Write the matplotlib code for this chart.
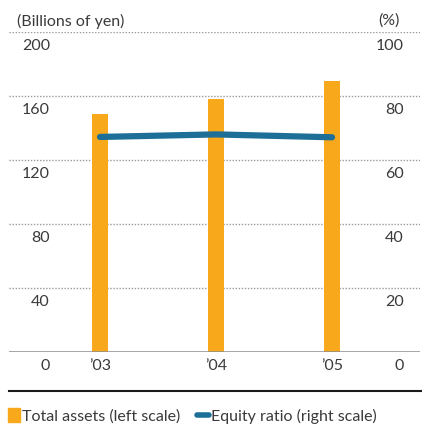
import matplotlib
matplotlib.use("Agg")
import matplotlib.pyplot as plt
import matplotlib.transforms as mtransforms
from matplotlib.lines import Line2D
from matplotlib.patches import Patch

years = ["\u201903", "\u201904", "\u201905"]
total_assets = [148.8, 158.1, 169.4]      # billions of yen
equity_ratio = [67.2, 68.0, 67.1]         # %
left_ticks = [0, 40, 80, 120, 160, 200]
right_ticks = [0, 20, 40, 60, 80, 100]

ORANGE = "#F7A81B"
BLUE = "#1D6F98"
TEXT = "#3A3A3A"
GRID = "#9A9A9A"
FS = 11.5

plt.rcParams["font.family"] = ["Lato", "DejaVu Sans"]

fig = plt.figure(figsize=(4.22, 4.25), dpi=100)
W, H = 422, 425
ax = fig.add_axes([9 / W, 1 - 352 / H, (420 - 9) / W, (352 - 32) / H])
ax2 = ax.twinx()

x = list(range(len(years)))
ax.bar(x, total_assets, width=16 / 116, color=ORANGE, zorder=2)
ax2.plot(x, equity_ratio, color=BLUE, lw=4.5, solid_capstyle="round", zorder=3)

ax.set_xlim((9 - 100) / 116, (420 - 100) / 116)
ax.set_ylim(0, 200)
ax2.set_ylim(0, 100)

for a in (ax, ax2):
    a.set_xticks([])
    a.set_yticks([])
    for s in a.spines.values():
        s.set_visible(False)
ax2.set_zorder(ax.get_zorder() + 1)

# dotted gridlines, solid baseline
for v in left_ticks[1:]:
    ax.axhline(v, color=GRID, lw=1.0, ls=(0, (1, 1.2)), zorder=1)
ax.axhline(0, color="#8C8C8C", lw=1.8, zorder=3)

# tick labels sit just under each gridline
below = mtransforms.offset_copy(ax.transData, fig=fig, x=0, y=-14, units="dots")
lt = mtransforms.blended_transform_factory(fig.transFigure, below)
for v in left_ticks:
    ax.text(50 / W, v, str(v), transform=lt, ha="right", va="center",
            fontsize=FS, color=TEXT)
below2 = mtransforms.offset_copy(ax2.transData, fig=fig, x=0, y=-14, units="dots")
rt = mtransforms.blended_transform_factory(fig.transFigure, below2)
for v in right_ticks:
    ax2.text(404 / W, v, str(v), transform=rt, ha="right", va="center",
             fontsize=FS, color=TEXT)

yl = mtransforms.blended_transform_factory(ax.transData, below)
for xi, lab in zip(x, years):
    ax.text(xi, 0, lab, transform=yl, ha="center", va="center",
            fontsize=FS, color=TEXT)

fig.text(17 / W, 1 - 21 / H, "(Billions of yen)", ha="left", va="center",
         fontsize=FS, color=TEXT)
fig.text(400 / W, 1 - 21 / H, "(%)", ha="right", va="center",
         fontsize=FS, color=TEXT)

fig.add_artist(Line2D([9 / W, 1.0], [1 - 391 / H] * 2, color="#1A1A1A", lw=1.5,
                      transform=fig.transFigure))

handles = [Patch(color=ORANGE),
           Line2D([], [], color=BLUE, lw=4, solid_capstyle="round")]
fig.legend(handles, ["Total assets (left scale)", "Equity ratio (right scale)"],
           loc="center left", bbox_to_anchor=(8 / W, 1 - 416 / H), ncol=2,
           frameon=False, fontsize=FS, handlelength=0.75, handleheight=0.9,
           handletextpad=0.15, columnspacing=1.0, labelcolor=TEXT,
           borderpad=0, borderaxespad=0)

fig.savefig("out.png", dpi=100, facecolor="white")
